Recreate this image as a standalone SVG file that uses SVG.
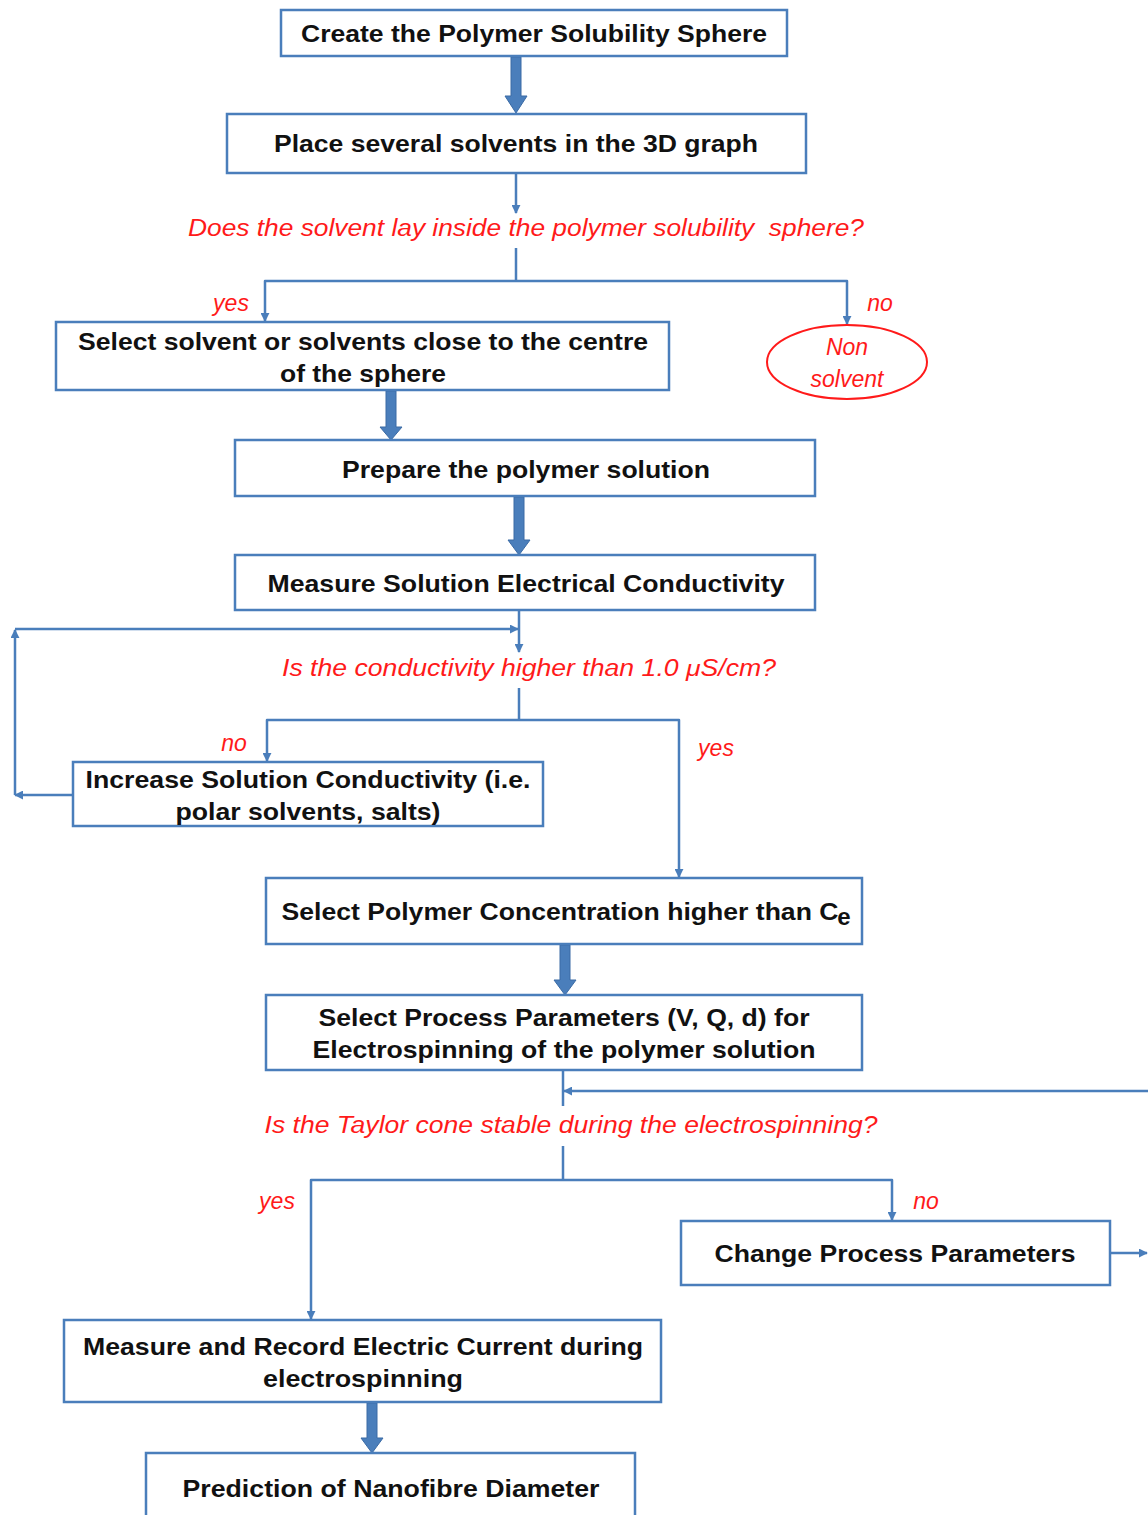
<svg xmlns="http://www.w3.org/2000/svg" width="1148" height="1515" viewBox="0 0 1148 1515">
  <style>
    .box { fill: #ffffff; stroke: #4a7ebb; stroke-width: 2.5; }
    .lbl { font-family: "Liberation Sans", Arial, sans-serif; font-weight: bold; font-size: 24px; fill: #111111; text-anchor: middle; }
    .q { font-family: "Liberation Sans", Arial, sans-serif; font-style: italic; font-size: 23px; fill: #ff1a1a; text-anchor: middle; }
    .link { fill: none; stroke: #4a7ebb; stroke-width: 2.5; stroke-linejoin: round; }
    .thick { fill: #4a7ebb; stroke: #3b6ba5; stroke-width: 1; }
  </style>
  <defs>
    <marker id="head" viewBox="0 0 10 10" refX="9" refY="5" markerWidth="9" markerHeight="9" markerUnits="userSpaceOnUse" orient="auto">
      <path d="M0,0 L10,5 L0,10 z" fill="#4a7ebb"/>
    </marker>
  </defs>

  <rect width="1148" height="1515" fill="#ffffff"/>

  <!-- connectors -->
  <g id="connectors">
    <!-- thick block arrows between sequential steps -->
    <polygon class="thick" points="511,57 521,57 521,96 527,96 516,113 505,96 511,96"/>
    <polygon class="thick" points="386,391 396,391 396,427 402,427 391,440 380,427 386,427"/>
    <polygon class="thick" points="514,497 524,497 524,540 530,540 519,555 508,540 514,540"/>
    <polygon class="thick" points="560,945 570,945 570,980 576,980 565,995 554,980 560,980"/>
    <polygon class="thick" points="367,1403 377,1403 377,1438 383,1438 372,1453 361,1438 367,1438"/>

    <!-- solubility sphere decision -->
    <path class="link" d="M516,173 V213" marker-end="url(#head)"/>
    <path class="link" d="M516,248 V281"/>
    <path class="link" d="M516,281 H265 V321" marker-end="url(#head)"/>
    <path class="link" d="M516,281 H847 V324" marker-end="url(#head)"/>

    <!-- conductivity decision and loop -->
    <path class="link" d="M519,610 V652" marker-end="url(#head)"/>
    <path class="link" d="M73,795 H15" marker-end="url(#head)"/>
    <path class="link" d="M15,795 V630" marker-end="url(#head)"/>
    <path class="link" d="M15,629 H518" marker-end="url(#head)"/>
    <path class="link" d="M519,688 V720"/>
    <path class="link" d="M519,720 H267 V761" marker-end="url(#head)"/>
    <path class="link" d="M519,720 H679 V877" marker-end="url(#head)"/>

    <!-- Taylor cone decision and parameter loop -->
    <path class="link" d="M563,1070 V1106"/>
    <path class="link" d="M1152,1253 V1091 H564" marker-end="url(#head)"/>
    <path class="link" d="M1110,1253 H1147" marker-end="url(#head)"/>
    <path class="link" d="M563,1146 V1180"/>
    <path class="link" d="M563,1180 H311 V1319" marker-end="url(#head)"/>
    <path class="link" d="M563,1180 H892 V1220" marker-end="url(#head)"/>
  </g>

  <!-- decision questions and branch labels -->
  <g id="questions">
    <text class="q" x="526" y="236" textLength="676" lengthAdjust="spacingAndGlyphs" xml:space="preserve">Does the solvent lay inside the polymer solubility  sphere?</text>
    <text class="q" x="529" y="676" textLength="494" lengthAdjust="spacingAndGlyphs">Is the conductivity higher than 1.0 μS/cm?</text>
    <text class="q" x="571" y="1133" textLength="613" lengthAdjust="spacingAndGlyphs">Is the Taylor cone stable during the electrospinning?</text>
    <text class="q" x="231" y="311">yes</text>
    <text class="q" x="880" y="311">no</text>
    <text class="q" x="234" y="751">no</text>
    <text class="q" x="716" y="756">yes</text>
    <text class="q" x="277" y="1209">yes</text>
    <text class="q" x="926" y="1209">no</text>
  </g>

  <g id="create-sphere">
    <rect class="box" x="281" y="10" width="506" height="46"/>
    <text class="lbl" x="534" y="42" textLength="466" lengthAdjust="spacingAndGlyphs">Create the Polymer Solubility Sphere</text>
  </g>

  <g id="place-solvents">
    <rect class="box" x="227" y="114" width="579" height="59"/>
    <text class="lbl" x="516" y="152" textLength="484" lengthAdjust="spacingAndGlyphs">Place several solvents in the 3D graph</text>
  </g>

  <g id="select-solvent">
    <rect class="box" x="56" y="322" width="613" height="68"/>
    <text class="lbl" x="363" y="350" textLength="570" lengthAdjust="spacingAndGlyphs">Select solvent or solvents close to the centre</text>
    <text class="lbl" x="363" y="382" textLength="166" lengthAdjust="spacingAndGlyphs">of the sphere</text>
  </g>

  <g id="non-solvent">
    <ellipse cx="847" cy="362" rx="80" ry="37" fill="#ffffff" stroke="#ff1a1a" stroke-width="2"/>
    <text class="q" x="847" y="355" font-size="24">Non</text>
    <text class="q" x="847" y="387" font-size="24">solvent</text>
  </g>

  <g id="prepare-solution">
    <rect class="box" x="235" y="440" width="580" height="56"/>
    <text class="lbl" x="526" y="478" textLength="368" lengthAdjust="spacingAndGlyphs">Prepare the polymer solution</text>
  </g>

  <g id="measure-conductivity">
    <rect class="box" x="235" y="555" width="580" height="55"/>
    <text class="lbl" x="526" y="592" textLength="517" lengthAdjust="spacingAndGlyphs">Measure Solution Electrical Conductivity</text>
  </g>

  <g id="increase-conductivity">
    <rect class="box" x="73" y="762" width="470" height="64"/>
    <text class="lbl" x="308" y="788" textLength="445" lengthAdjust="spacingAndGlyphs">Increase Solution Conductivity (i.e.</text>
    <text class="lbl" x="308" y="820" textLength="265" lengthAdjust="spacingAndGlyphs">polar solvents, salts)</text>
  </g>

  <g id="select-concentration">
    <rect class="box" x="266" y="878" width="596" height="66"/>
    <text class="lbl" x="560" y="920" textLength="557" lengthAdjust="spacingAndGlyphs">Select Polymer Concentration higher than C</text>
    <text class="lbl" x="844" y="925" font-size="15">e</text>
  </g>

  <g id="select-parameters">
    <rect class="box" x="266" y="995" width="596" height="75"/>
    <text class="lbl" x="564" y="1026" textLength="491" lengthAdjust="spacingAndGlyphs">Select Process Parameters (V, Q, d) for</text>
    <text class="lbl" x="564" y="1058" textLength="503" lengthAdjust="spacingAndGlyphs">Electrospinning of the polymer solution</text>
  </g>

  <g id="change-parameters">
    <rect class="box" x="681" y="1221" width="429" height="64"/>
    <text class="lbl" x="895" y="1262" textLength="361" lengthAdjust="spacingAndGlyphs">Change Process Parameters</text>
  </g>

  <g id="measure-current">
    <rect class="box" x="64" y="1320" width="597" height="82"/>
    <text class="lbl" x="363" y="1355" textLength="560" lengthAdjust="spacingAndGlyphs">Measure and Record Electric Current during</text>
    <text class="lbl" x="363" y="1387" textLength="200" lengthAdjust="spacingAndGlyphs">electrospinning</text>
  </g>

  <g id="predict-diameter">
    <rect class="box" x="146" y="1453" width="489" height="80"/>
    <text class="lbl" x="391" y="1497" textLength="417" lengthAdjust="spacingAndGlyphs">Prediction of Nanofibre Diameter</text>
  </g>
</svg>
